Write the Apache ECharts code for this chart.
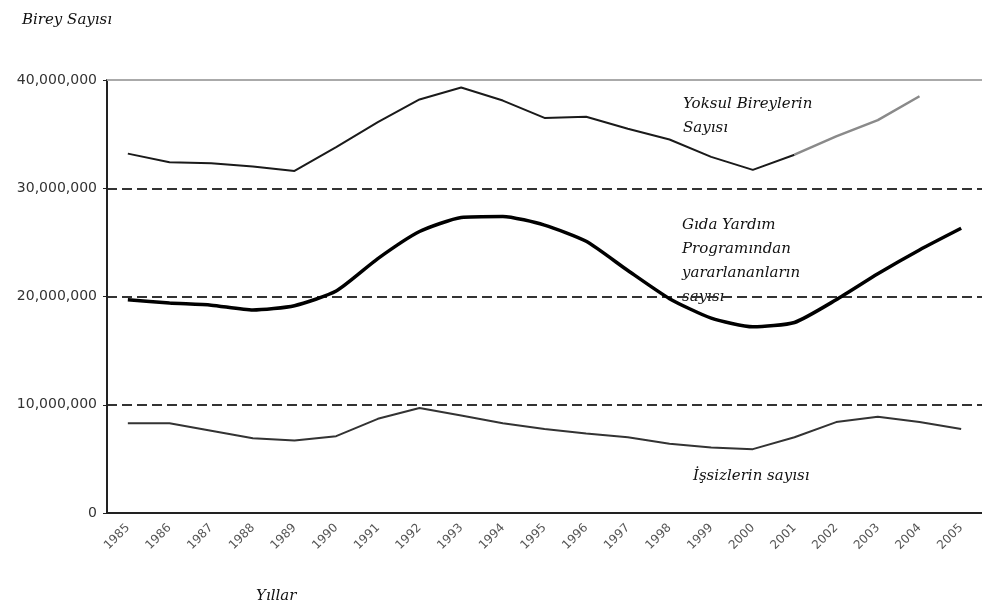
<!DOCTYPE html>
<html>
<head>
<meta charset="utf-8">
<script src="https://cdn.jsdelivr.net/npm/echarts@6/dist/echarts.min.js"></script>
<style>
  html, body { margin: 0; padding: 0; background: #fff; }
</style>
</head>
<body>
<div id="main" style="width: 982px;height:607px;"></div>
<script>
// yillar (kategori ekseni)
const years = ['1985', '1986', '1987', '1988', '1989', '1990', '1991', '1992', '1993', '1994', '1995',
  '1996', '1997', '1998', '1999', '2000', '2001', '2002', '2003', '2004', '2005'];

// milyon kisi olarak
const yoksul = [33.2, 32.4, 32.3, 32.0, 31.6, 33.8, 36.1, 38.2, 39.3, 38.1, 36.5,
  36.6, 35.5, 34.5, 32.9, 31.7, 33.1, null, null, null, null];
const yoksulTahmin = [null, null, null, null, null, null, null, null, null, null, null,
  null, null, null, null, null, 33.1, 34.8, 36.3, 38.5, null];
const gida = [19.7, 19.4, 19.2, 18.75, 19.15, 20.5, 23.5, 26.0, 27.3, 27.4, 26.6,
  25.1, 22.4, 19.8, 18.0, 17.2, 17.6, 19.7, 22.1, 24.3, 26.3];
const issiz = [8.3, 8.3, 7.6, 6.9, 6.7, 7.1, 8.7, 9.7, 9.0, 8.3, 7.75,
  7.35, 7.0, 6.4, 6.06, 5.9, 7.0, 8.4, 8.9, 8.4, 7.75];

const yTicks = [0, 10000000, 20000000, 30000000, 40000000];

const toNum = arr => arr.map(v => v == null ? null : v * 1000000);
const fmt = v => v.toString().replace(/\B(?=(\d{3})+(?!\d))/g, ',');

const serif = "'DejaVu Serif', serif";
const textStyle = (txt, x, y) => ({
  type: 'text', left: x, top: y,
  style: { text: txt, font: 'italic 15px ' + serif, fill: '#111', lineHeight: 24 }
});

var myChart = echarts.init(document.getElementById('main'));
let option = {
  animation: false,
  grid: { left: 107, right: -9, top: 80, bottom: 94 },
  xAxis: {
    type: 'category',
    data: years,
    axisLine: { lineStyle: { color: '#222', width: 2 } },
    axisTick: { length: 4, lineStyle: { color: '#222' } },
    axisLabel: {
      interval: 0, rotate: 45, margin: 13,
      fontFamily: 'DejaVu Sans', fontSize: 12, color: '#555'
    }
  },
  yAxis: {
    type: 'value',
    min: yTicks[0], max: yTicks[yTicks.length - 1], interval: 10000000,
    axisLine: { show: true, lineStyle: { color: '#222', width: 2 } },
    axisTick: { show: true, length: 4, lineStyle: { color: '#222' } },
    axisLabel: {
      formatter: fmt, margin: 10,
      fontFamily: 'DejaVu Sans', fontSize: 14, color: '#333'
    },
    splitLine: {
      lineStyle: {
        color: ['#333', '#333', '#333', '#333', 'rgba(0,0,0,0)'],
        type: [10, 5], width: 2
      }
    }
  },
  series: [
    {
      name: 'Yoksul Bireylerin Sayısı',
      type: 'line',
      data: toNum(yoksul),
      symbol: 'none',
      lineStyle: { color: '#1a1a1a', width: 2 },
      markLine: {
        silent: true, symbol: ['none', 'none'], label: { show: false },
        lineStyle: { color: '#aaa', type: 'solid', width: 2 },
        data: [{ yAxis: yTicks[yTicks.length - 1] }]
      }
    },
    {
      name: 'Yoksul tahmin',
      type: 'line',
      data: toNum(yoksulTahmin),
      symbol: 'none',
      lineStyle: { color: '#8a8a8a', width: 2.5 }
    },
    {
      name: 'Gıda Yardım Programından yararlananların sayısı',
      type: 'line',
      data: toNum(gida),
      symbol: 'none',
      smooth: 0.2,
      lineStyle: { color: '#000', width: 3.5 }
    },
    {
      name: 'İşsizlerin sayısı',
      type: 'line',
      data: toNum(issiz),
      symbol: 'none',
      lineStyle: { color: '#333', width: 2 }
    }
  ],
  graphic: [
    textStyle('Birey Sayısı', 22, 8),
    textStyle('Yıllar', 256, 584),
    textStyle('Yoksul Bireylerin\nSayısı', 683, 92),
    textStyle('Gıda Yardım\nProgramından\nyararlananların\nsayısı', 682, 213),
    textStyle('İşsizlerin sayısı', 693, 464)
  ]
};
myChart.setOption(option);
window.addEventListener("resize", function () {
  myChart.resize();
});
</script>
</body>
</html>
